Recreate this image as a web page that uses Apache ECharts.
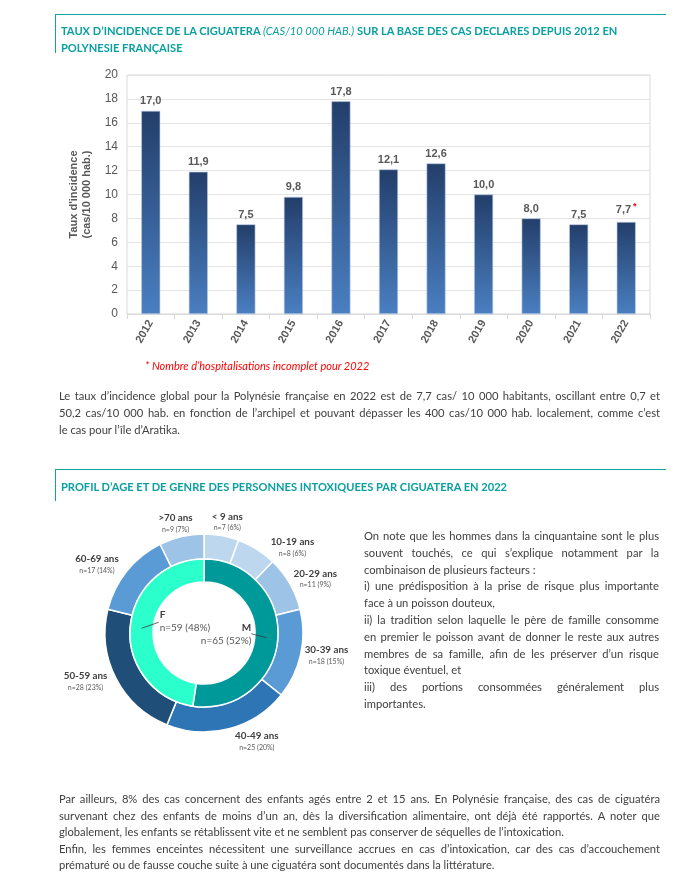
<!DOCTYPE html>
<html>
<head>
<meta charset="utf-8">
<script src="https://cdn.jsdelivr.net/npm/echarts@6/dist/echarts.min.js"></script>
<style>
  html, body { margin:0; padding:0; background:#fff; }
  body { width:695px; height:891px; position:relative; overflow:hidden; font-family: Lato, "Noto Sans", sans-serif; color:#404040; }
  #chart { position:absolute; left:0; top:0; width:695px; height:891px; }
  .box { position:absolute; left:55px; width:610px; border-top:1px solid #12a3a3; border-left:1px solid #12a3a3; }
  .ttl { position:absolute; left:5px; font-weight:bold; color:#0a9fa0; font-size:11.1px; line-height:17px; white-space:nowrap; }
  .ttl i { font-weight:normal; }
  .txt { position:absolute; font-size:11.2px; line-height:17px; color:#404040; }
  .txt div { white-space:nowrap; }
  .txt .j { text-align:justify; text-align-last:justify; }
  .note { position:absolute; left:145px; top:359px; font-size:11px; font-style:italic; color:#ff0000; white-space:nowrap; }
</style>
</head>
<body>
<div id="chart"></div>

<div class="box" style="top:14px;height:38px;">
  <div class="ttl" style="top:7px;">TAUX D’INCIDENCE DE LA CIGUATERA <i>(CAS/10 000 HAB.)</i> SUR LA BASE DES CAS DECLARES DEPUIS 2012 EN<br>POLYNESIE FRANÇAISE</div>
</div>

<div class="note">* Nombre d’hospitalisations incomplet pour 2022</div>

<div class="txt" style="left:59px;top:387px;width:601px;">
  <div class="j">Le taux d’incidence global pour la Polynésie française en 2022 est de 7,7 cas/ 10 000 habitants, oscillant entre 0,7 et</div>
  <div class="j">50,2 cas/10 000 hab. en fonction de l’archipel et pouvant dépasser les 400 cas/10 000 hab. localement, comme c’est</div>
  <div>le cas pour l’île d’Aratika.</div>
</div>

<div class="box" style="top:469px;height:31px;">
  <div class="ttl" style="top:8px;">PROFIL D’AGE ET DE GENRE DES PERSONNES INTOXIQUEES PAR CIGUATERA EN 2022</div>
</div>

<div class="txt" style="left:364px;top:528px;width:295px;line-height:16.8px;">
  <div class="j">On note que les hommes dans la cinquantaine sont le plus</div>
  <div class="j">souvent touchés, ce qui s’explique notamment par la</div>
  <div>combinaison de plusieurs facteurs :</div>
  <div class="j">i) une prédisposition à la prise de risque plus importante</div>
  <div>face à un poisson douteux,</div>
  <div class="j">ii) la tradition selon laquelle le père de famille consomme</div>
  <div class="j">en premier le poisson avant de donner le reste aux autres</div>
  <div class="j">membres de sa famille, afin de les préserver d’un risque</div>
  <div>toxique éventuel, et</div>
  <div class="j">iii) des portions consommées généralement plus</div>
  <div>importantes.</div>
</div>

<div class="txt" style="left:59px;top:791px;width:601px;line-height:16.6px;">
  <div class="j">Par ailleurs, 8% des cas concernent des enfants agés entre 2 et 15 ans. En Polynésie française, des cas de ciguatéra</div>
  <div class="j">survenant chez des enfants de moins d’un an, dès la diversification alimentaire, ont déjà été rapportés. A noter que</div>
  <div>globalement, les enfants se rétablissent vite et ne semblent pas conserver de séquelles de l’intoxication.</div>
  <div class="j">Enfin, les femmes enceintes nécessitent une surveillance accrues en cas d’intoxication, car des cas d’accouchement</div>
  <div>prématuré ou de fausse couche suite à une ciguatéra sont documentés dans la littérature.</div>
</div>

<script>
// ---- Data: incidence rate ----
const years = ['2012','2013','2014','2015','2016','2017','2018','2019','2020','2021','2022'];
const incidence = [17.0, 11.9, 7.5, 9.8, 17.8, 12.1, 12.6, 10.0, 8.0, 7.5, 7.7];
const incompleteYear = '2022';
const yMin = 0, yMax = 20, yStep = 2;

// ---- Data: age / gender profile ----
const ageGroups = ['< 9 ans','10-19 ans','20-29 ans','30-39 ans','40-49 ans','50-59 ans','60-69 ans','>70 ans'];
const ageCounts = [7, 8, 11, 18, 25, 28, 17, 9];
const agePercents = [6, 6, 9, 15, 20, 23, 14, 7];
const genders = ['M', 'F'];
const genderCounts = [65, 59];
const genderPercents = [52, 48];

// ---- Styles ----
const ageColors = ['#bdd7ee','#bdd7ee','#9dc3e6','#5b9bd5','#2e75b6','#1f4e79','#5b9bd5','#9dc3e6'];
const genderColors = ['#009999','#2bffcc'];
const axisGray = '#595959';
const pieCenter = [204, 633];
const innerRadius = [51, 74];
const outerRadius = [74, 99];

const chart = echarts.init(document.getElementById('chart'), null, {renderer:'canvas'});

const fmt = v => v.toFixed(1).replace('.', ',');

// leader lines for the gender ring, anchored at each slice's mid-angle (derived from the data)
const genderTotal = genderCounts.reduce((a, b) => a + b, 0);
const leaderOffsets = [[-15, -4], [17, -6]];
const leaderLines = [];
let cum = 0;
genderCounts.forEach((v, i) => {
  const mid = (cum + v / 2) / genderTotal * 2 * Math.PI;
  cum += v;
  const rm = (innerRadius[0] + innerRadius[1]) / 2;
  const x1 = pieCenter[0] + rm * Math.sin(mid);
  const y1 = pieCenter[1] - rm * Math.cos(mid);
  leaderLines.push({
    type:'line', silent:true, z:100,
    shape:{ x1:x1, y1:y1, x2:x1 + leaderOffsets[i][0], y2:y1 + leaderOffsets[i][1] },
    style:{ stroke:'#3a3a3a', lineWidth:0.8 }
  });
});

const option = {
  animation: false,
  backgroundColor: '#ffffff',
  graphic: leaderLines,
  grid: { left:127, top:75, width:523, height:239, show:true, borderColor:'#d9d9d9', borderWidth:1, backgroundColor:'transparent' },
  xAxis: {
    type:'category', data: years,
    axisLine: { lineStyle: { color:'#d9d9d9' } },
    axisTick: { show:true, length:5, lineStyle:{ color:'#d9d9d9' } },
    axisLabel: { rotate:60, margin:7, fontFamily:'Liberation Sans, Arial', fontWeight:'bold', fontSize:11, color:axisGray }
  },
  yAxis: {
    type:'value', min:yMin, max:yMax, interval:yStep,
    axisLine:{ show:false }, axisTick:{ show:false },
    axisLabel:{ margin:9, fontFamily:'Liberation Sans, Arial', fontSize:12, color:axisGray },
    splitLine:{ lineStyle:{ color:'#e4e4e4' } },
    name:'Taux d\'incidence\n(cas/10 000 hab.)', nameLocation:'middle', nameGap:27, nameRotate:90,
    nameTextStyle:{ fontFamily:'Liberation Sans, Arial', fontWeight:'bold', fontSize:11, color:axisGray, lineHeight:13 }
  },
  series: [
    {
      type:'bar', data: incidence, barWidth:19,
      itemStyle:{
        color: new echarts.graphic.LinearGradient(0,0,0,1,[{offset:0,color:'#233e6a'},{offset:1,color:'#4a7fc1'}]),
        borderColor:'#b8cbe6', borderWidth:0.6
      },
      label:{
        show:true, position:'top', distance:4,
        fontFamily:'Liberation Sans, Arial', fontWeight:'bold', fontSize:11, color:axisGray,
        formatter: p => years[p.dataIndex] === incompleteYear ? '{v|' + fmt(p.value) + '}{s|*}' : fmt(p.value),
        rich:{
          v:{ fontFamily:'Liberation Sans, Arial', fontWeight:'bold', fontSize:11, color:axisGray },
          s:{ fontFamily:'Liberation Sans, Arial', fontWeight:'bold', fontSize:9, color:'#ff0000', padding:[0,0,7,2] }
        }
      }
    },
    {
      type:'pie', center:pieCenter, radius:outerRadius, startAngle:90, clockwise:true, silent:true,
      itemStyle:{ borderColor:'#ffffff', borderWidth:1.5 },
      data: ageGroups.map((g,i)=>({ name:g, value:ageCounts[i], itemStyle:{ color:ageColors[i] } })),
      label:{
        show:true, position:'outside', alignTo:'none',
        formatter: p => '{a|' + p.name + '}\n{b|n=' + ageCounts[p.dataIndex] + ' (' + agePercents[p.dataIndex] + '%)}',
        rich:{
          a:{ fontFamily:'Lato', fontWeight:'bold', fontSize:9.8, color:'#404040', align:'center', lineHeight:12 },
          b:{ fontFamily:'Lato', fontSize:7, color:'#595959', align:'center', lineHeight:11 }
        }
      },
      labelLine:{ show:false, length:4, length2:0 },
      labelLayout: function (p) {
        const r = p.labelRect;
        const rightSide = r.x + r.width / 2 > pieCenter[0];
        const ax = rightSide ? r.x : r.x + r.width;
        const ay = r.y + r.height / 2;
        const vx = ax - pieCenter[0], vy = ay - pieCenter[1];
        const d = Math.sqrt(vx * vx + vy * vy) || 1;
        const c = vy / d;
        const out = { dy: Math.sign(c) * c * c * r.height * 0.5 };
        if (c < -0.95) { out.align = 'center'; }
        return out;
      }
    },
    {
      type:'pie', center:pieCenter, radius:innerRadius, startAngle:90, clockwise:true, silent:true,
      itemStyle:{ borderColor:'#ffffff', borderWidth:1.5 },
      data: genders.map((g,i)=>({ name:g, value:genderCounts[i], itemStyle:{ color:genderColors[i] } })),
      label:{
        show:true, position:'inside',
        formatter: p => '{a|' + p.name + '}\n{b|n=' + genderCounts[p.dataIndex] + ' (' + genderPercents[p.dataIndex] + '%)}',
        rich:{
          a:{ fontFamily:'Lato', fontWeight:'bold', fontSize:10, color:'#404040', lineHeight:13 },
          b:{ fontFamily:'Lato', fontSize:10, color:'#595959', lineHeight:13 }
        }
      },
      labelLine:{ show:false },
      labelLayout: function (p) {
        if (p.dataIndex === 0) {
          return { align:'right', dx:-18, dy:-4 };
        }
        return { align:'left', dx:21, dy:-7 };
      }
    }
  ]
};
chart.setOption(option);
</script>
</body>
</html>
